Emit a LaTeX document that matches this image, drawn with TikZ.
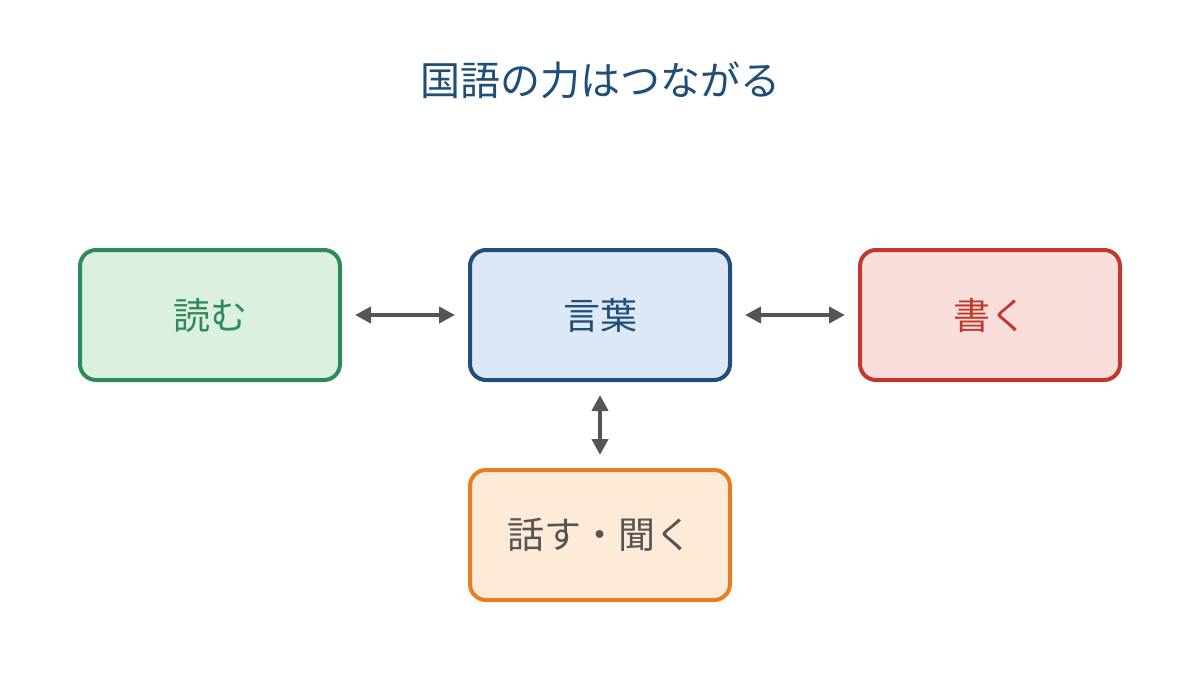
\documentclass[tikz,border=0pt]{standalone}
\usepackage{fontspec}
\setmainfont{Noto Sans CJK JP}
\usetikzlibrary{arrows.meta}
\definecolor{ttl}{HTML}{1F4E79}
\definecolor{gB}{HTML}{2E8B57}\definecolor{gF}{HTML}{DCF0E2}
\definecolor{bB}{HTML}{1F4E79}\definecolor{bF}{HTML}{DCE8F5}
\definecolor{rB}{HTML}{C0392B}\definecolor{rF}{HTML}{FADEDC}
\definecolor{oB}{HTML}{E67E22}\definecolor{oF}{HTML}{FDEBD8}
\definecolor{arr}{HTML}{555555}
\tikzset{
  box/.style={draw, line width=4pt, rounded corners=16pt, minimum width=260pt, minimum height=130pt, inner sep=0pt, font=\fontsize{37}{40}\selectfont},
  link/.style={draw=arr, line width=4pt, {Triangle[length=16pt,width=16pt]}-{Triangle[length=16pt,width=16pt]}}
}
\begin{document}
\begin{tikzpicture}[x=1pt,y=-1pt]
\useasboundingbox (0,0) rectangle (1200,675);
\node[text=ttl, font=\fontsize{40}{44}\selectfont] (title) at (600,80) {国語の力はつながる};
\node[box, draw=gB, fill=gF, text=gB] (read) at (210,315) {読む};
\node[box, draw=bB, fill=bF, text=bB] (word) at (600,315) {言葉};
\node[box, draw=rB, fill=rF, text=rB] (write) at (990,315) {書く};
\node[box, draw=oB, fill=oF, text=arr] (talk) at (600,535) {話す・聞く};
\draw[link] ([xshift=13pt]read.east) -- ([xshift=-13pt]word.west);
\draw[link] ([xshift=13pt]word.east) -- ([xshift=-13pt]write.west);
\draw[link] ([yshift=-13pt]word.south) -- ([yshift=13pt]talk.north);
\end{tikzpicture}
\end{document}
